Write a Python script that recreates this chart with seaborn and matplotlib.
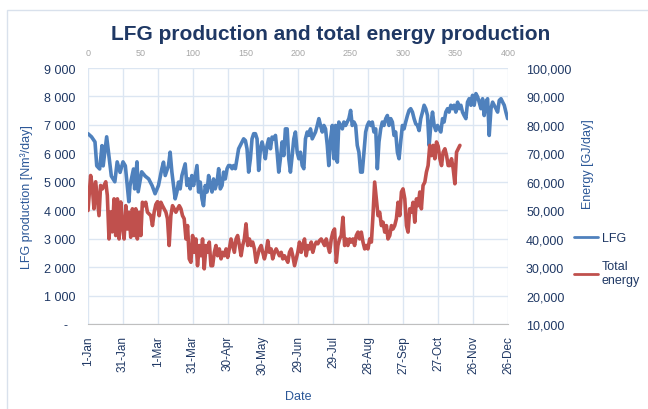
import pandas as pd
import seaborn as sns
import matplotlib.pyplot as plt
from matplotlib.lines import Line2D
from matplotlib.patches import Rectangle
from matplotlib.ticker import MultipleLocator

# LFG production (day of year, Nm3/day)
lfg_day = [0, 3, 6, 7.5, 10, 12, 13, 16, 17.5, 20, 23, 25, 27.5, 30, 32, 35, 36, 39, 40, 42,
           43, 46, 49, 52, 55, 57.5, 60.4, 63.3, 64.7, 66.2, 69, 70.4, 71.9, 73.3, 74.7, 76.2,
           77.6, 79, 80.5, 83.3, 84.8, 86.2, 87.6, 89, 90.5, 93.4, 94.8, 96.2, 97.7, 99, 100.5,
           102, 103.4, 104.8, 106.3, 107.6, 109, 110.6, 112, 113.4, 114.9, 116.2, 117.7, 119.2,
           120.5, 122, 123.5, 124.8, 126.3, 127.7, 129.1, 130.6, 132, 133.4, 134.9, 136.3, 137.7,
           139.2, 140.6, 142, 143.5, 144.9, 146.3, 147.8, 149.2, 150.6, 152, 153.5, 154.9, 156.4,
           157.8, 159.2, 160.7, 162.1, 163.5, 164.9, 166.4, 167.8, 169.2, 170.7, 172.1, 173.5,
           175, 176.4, 177.8, 179.3, 180.7, 182.1, 183.6, 185, 186.4, 187.9, 189.3, 190.7, 192.2,
           193.6, 195, 196.5, 197.9, 199.3, 200.8, 202.2, 203.6, 205.1, 206.4, 207.9, 209.4,
           210.8, 212.2, 213.7, 215, 216.5, 218, 219.3, 220.8, 222.2, 223.6, 225.1, 226.5, 228,
           229.4, 230.8, 232.2, 233.7, 235.1, 236.5, 238, 239.4, 240.8, 242.3, 243.7, 245.1,
           246.6, 248, 249.4, 250.9, 252.3, 253.7, 255.2, 256.6, 258, 259.5, 260.9, 262.3, 263.7,
           265.2, 266.6, 268, 269.5, 270.9, 272.3, 273.8, 275.2, 276.6, 278.1, 279.5, 280.9,
           282.4, 283.8, 285.2, 286.7, 288.1, 289.5, 291, 292.4, 293.8, 295.3, 296.7, 298.1,
           299.6, 301, 302.4, 303.9, 305.2, 306.7, 308.2, 309.5, 311, 312.5, 313.8, 315.3, 316.8,
           318.1, 319.6, 321, 322.4, 323.9, 325.3, 326.7, 328.2, 329.6, 331, 332.5, 334, 335.3,
           336.8, 338.2, 339.6, 341.1, 342.5, 343.9, 345.4, 346.8, 348.2, 349.7, 351.1, 352.5,
           354, 355.4, 356.8, 358.2, 359.7]
lfg_value = [6690, 6580, 6400, 5560, 5450, 6270, 5560, 6580, 6050, 5200, 5000, 5700, 5330, 5700,
             5560, 4300, 4860, 5450, 4750, 5700, 4650, 5350, 5200, 5100, 4860, 4580, 4870, 5460,
             5690, 5220, 5570, 6040, 5340, 4870, 4400, 4640, 4990, 4750, 5220, 5630, 4870, 5100,
             4750, 5220, 4870, 5570, 4640, 4990, 4400, 4160, 4870, 4640, 5220, 4870, 4640, 5100,
             4750, 4990, 5460, 4750, 4870, 5340, 5100, 5460, 5570, 5570, 5460, 5570, 5460, 5810,
             6160, 6280, 6400, 6510, 6450, 6160, 5340, 5810, 6510, 6690, 6690, 6510, 5400, 6160,
             6400, 6160, 5810, 6280, 6510, 6160, 6570, 6510, 6630, 6040, 5340, 5810, 6400, 5920,
             6860, 6860, 5810, 5340, 5920, 6510, 6750, 6040, 5810, 6040, 5570, 5460, 6510, 6750,
             6630, 6860, 6510, 6630, 6750, 6980, 7220, 6980, 6750, 6980, 6860, 6280, 5570, 6510,
             6980, 5810, 6980, 5690, 7100, 6980, 6860, 7100, 6980, 7100, 7220, 7510, 6980, 7100,
             6980, 6280, 6040, 5340, 5340, 6040, 6750, 6980, 7100, 6980, 7100, 6750, 6860, 5460,
             6400, 6860, 7100, 6980, 7220, 7330, 6980, 7220, 7100, 6630, 6750, 6040, 5810, 6400,
             6980, 6860, 7100, 7330, 7510, 7570, 7450, 7220, 7040, 6980, 6800, 7220, 7450, 7690,
             7570, 7330, 6280, 6980, 7450, 6980, 6800, 6980, 6860, 6750, 7220, 7100, 7450, 7570,
             7450, 7690, 7570, 7690, 7450, 7800, 7570, 7690, 7450, 7330, 7220, 7800, 7920, 7690,
             8040, 7690, 8100, 7980, 7800, 7570, 7920, 7330, 7800, 7920, 6630, 7570, 7800, 7690,
             7570, 7450, 7860, 7920, 7800, 7690, 7450, 7220]

# total energy, plotted against the secondary 0-400 x axis (GJ/day)
energy_x = [0, 2.5, 4, 5.7, 7.3, 8.9, 10.5, 12, 13.7, 15.3, 16.9, 18.4, 20, 21.7, 23.2, 24.8, 26.4,
            28, 29.6, 31.2, 32.7, 34.4, 36, 37.5, 39, 40.7, 42.3, 43.9, 45.5, 47, 48.7, 50.3, 51.8,
            53.5, 55, 56.6, 59.8, 61.4, 63, 64.6, 66.2, 67.8, 69.4, 70.9, 74.2, 75.7, 77.3, 78.9,
            80.5, 82.1, 83.7, 85.3, 86.9, 88.5, 90, 91.6, 93.3, 94.8, 96.4, 98, 99.6, 101.2, 102.8,
            104.3, 106, 107.6, 109.1, 110.7, 112.4, 113.9, 115.5, 117.1, 118.7, 120.3, 121.9,
            123.4, 125.1, 126.7, 128.2, 129.8, 131.5, 133, 134.6, 136.2, 137.8, 139.4, 141, 142.5,
            144.2, 145.8, 147.3, 148.9, 150.5, 152.1, 153.7, 155.3, 156.8, 158.5, 160.1, 161.6,
            163.2, 164.9, 166.4, 168, 169.6, 171.2, 172.8, 174.4, 175.9, 177.6, 179.2, 180.7,
            182.3, 184, 185.5, 187.1, 188.7, 190.3, 191.9, 193.5, 195, 196.7, 198.3, 199.8, 201.4,
            203.1, 204.6, 206.2, 207.8, 209.4, 211, 212.6, 214.1, 215.8, 217.4, 218.9, 220.5,
            222.1, 223.7, 225.3, 226.9, 228.4, 230.1, 231.7, 233.2, 234.8, 236.5, 238, 239.6,
            241.2, 242.8, 244.4, 246, 247.5, 249.2, 250.7, 252.3, 253.9, 255.5, 257.1, 258.7,
            260.3, 261.9, 263.5, 265.1, 266.6, 268.3, 269.9, 271.4, 273, 274.6, 276.2, 277.8,
            279.4, 281, 282.6, 284.2, 285.7, 287.4, 289, 290.5, 292.1, 293.7, 295.3, 296.9, 298.5,
            300, 301.7, 303.3, 304.8, 306.4, 308, 309.6, 311.2, 312.8, 314.4, 316, 317.5, 319.1,
            320.8, 322.3, 323.9, 325.5, 327.1, 328.7, 330.3, 331.9, 333.5, 335.1, 336.7, 338.2,
            339.9, 341.5, 343, 344.6, 346.2, 347.8, 349.4, 351, 352.6, 354.2]
energy_value = [49900, 62200, 58700, 50500, 60000, 54000, 48100, 58700, 57500, 58700, 60000, 55200,
                39900, 49400, 42400, 54000, 41100, 54000, 39900, 52900, 44600, 39900, 51600, 43400,
                49300, 40500, 50500, 41100, 50500, 39900, 49300, 41100, 52800, 51600, 52800, 49300,
                48100, 44600, 49300, 52000, 53000, 48100, 52800, 51600, 49300, 47000, 37600, 48100,
                51600, 50500, 49300, 50500, 51600, 50500, 48100, 47000, 39900, 44600, 32900, 31700,
                41100, 35200, 39900, 30500, 37600, 34000, 39900, 29400, 37600, 35200, 38800, 30500,
                30500, 35200, 37600, 34000, 36400, 32900, 35200, 34000, 36400, 33400, 36400, 39900,
                37600, 35200, 39900, 41100, 37600, 34000, 37600, 39900, 45200, 37600, 39900, 37600,
                38800, 36400, 31700, 34000, 36400, 37600, 35200, 32900, 35200, 39300, 35200, 36400,
                32900, 35200, 36400, 35200, 34000, 35200, 32900, 34000, 32900, 31700, 35200, 36400,
                34000, 30500, 32900, 35200, 38800, 35200, 37600, 39900, 34000, 37600, 36400, 38800,
                35200, 37600, 38800, 38200, 39300, 39900, 38800, 37600, 39900, 37600, 35200, 39900,
                42300, 43400, 31700, 37600, 39900, 41100, 47500, 37600, 39900, 37600, 39900, 38800,
                39900, 37600, 41100, 42300, 39900, 42300, 38800, 36400, 37600, 36400, 39900, 38800,
                48100, 59900, 54000, 48100, 49300, 44600, 45800, 42300, 44600, 39900, 41100, 44600,
                43400, 44600, 47000, 52800, 48100, 56400, 57500, 54000, 44600, 42300, 50500, 49300,
                52800, 45800, 54000, 51600, 56400, 50500, 58700, 59900, 63400, 65700, 72800, 69200,
                72800, 68100, 74000, 72500, 68100, 65700, 70400, 71600, 69200, 65700, 65700, 68100,
                64600, 59300, 70400, 71600, 72800]

date_ticks = [0, 30, 60, 90, 120, 150, 180, 210, 240, 270, 300, 330, 360]
date_labels = ['1-Jan', '31-Jan', '1-Mar', '31-Mar', '30-Apr', '30-May', '29-Jun', '29-Jul',
               '28-Aug', '27-Sep', '27-Oct', '26-Nov', '26-Dec']
lfg_ticks = [0, 1000, 2000, 3000, 4000, 5000, 6000, 7000, 8000, 9000]
energy_ticks = [10000, 20000, 30000, 40000, 50000, 60000, 70000, 80000, 90000, 100000]
top_ticks = [0, 50, 100, 150, 200, 250, 300, 350, 400]

BLUE = '#4F81BD'
RED = '#C0504D'
NAVY = '#1F3864'
LABEL = '#2B5797'
GRID = '#DCE6F2'

sns.set_style('white')
plt.rcParams['font.family'] = ['Liberation Sans', 'DejaVu Sans']

lfg = pd.DataFrame({'day': lfg_day, 'LFG': lfg_value})
energy = pd.DataFrame({'x': energy_x, 'energy': energy_value})

fig = plt.figure(figsize=(6.48, 4.10), dpi=100)
rect = [88 / 648, 85 / 410, 420 / 648, 256 / 410]
ax = fig.add_axes(rect)
ax2 = fig.add_axes(rect, frameon=False)
ax2.patch.set_visible(False)

sns.lineplot(data=lfg, x='day', y='LFG', ax=ax, color=BLUE, lw=2.6)
sns.lineplot(data=energy, x='x', y='energy', ax=ax2, color=RED, lw=2.6)

# primary axes: dates + LFG
ax.set_xlim(0, 360)
ax.set_ylim(0, 9000)
ax.set_xticks(date_ticks)
ax.set_xticklabels(date_labels, rotation=90, fontsize=8.5, color=NAVY)
ax.xaxis.set_minor_locator(MultipleLocator(6))
ax.set_yticks(lfg_ticks)
ax.set_yticklabels(['-  '] + [f'{v:,}'.replace(',', ' ') for v in lfg_ticks[1:]],
                   fontsize=9, color=NAVY)
ax.grid(True, color=GRID, lw=1)
ax.set_axisbelow(True)
for side in ['top', 'right', 'left']:
    ax.spines[side].set_visible(False)
ax.spines['bottom'].set_color('#BFBFBF')
ax.tick_params(axis='x', which='both', direction='inout', color='#BFBFBF', pad=5)
ax.tick_params(axis='x', which='major', length=6)
ax.tick_params(axis='x', which='minor', length=4)
ax.tick_params(axis='y', length=0, pad=9)
ax.set_xlabel('Date', fontsize=9, color=LABEL, labelpad=11)
ax.set_ylabel('LFG production [Nm³/day]', fontsize=9, color=LABEL, labelpad=8)

# secondary axes: 0-400 on top, energy on the right
ax2.set_xlim(0, 400)
ax2.set_ylim(10000, 100000)
ax2.xaxis.tick_top()
ax2.yaxis.tick_right()
ax2.yaxis.set_label_position('right')
ax2.set_xticks(top_ticks)
ax2.set_xticklabels([str(t) for t in top_ticks], fontsize=6.5, color='#A6A6A6')
ax2.set_yticks(energy_ticks)
ax2.set_yticklabels([f'{v:,}' for v in energy_ticks], fontsize=9, color=NAVY)
ax2.tick_params(length=0)
ax2.tick_params(axis='x', pad=8)
ax2.tick_params(axis='y', pad=13)
ax2.set_xlabel('')
ax2.set_ylabel('Energy [GJ/day]', fontsize=9, color=LABEL)
ax2.yaxis.set_label_coords(1.175, 0.63)

fig.suptitle('LFG production and total energy production', x=0.51, y=0.94,
             fontsize=15, fontweight='bold', color=NAVY)

handles = [Line2D([], [], color=BLUE, lw=2), Line2D([], [], color=RED, lw=2)]
fig.legend(handles, ['LFG', 'Total\nenergy'], loc='upper left',
           bbox_to_anchor=(563 / 648, 1 - 222 / 410), frameon=False, fontsize=9,
           labelcolor=NAVY, handlelength=1.9, handletextpad=0.3, labelspacing=1.3)

# thin chart-area border like the spreadsheet export
fig.patches.append(Rectangle((7 / 648, -0.05), 1.1, 0.05 + (410 - 11) / 410,
                             transform=fig.transFigure, fill=False, ec='#D9E1EC', lw=1))

fig.savefig('out.png', dpi=100)
